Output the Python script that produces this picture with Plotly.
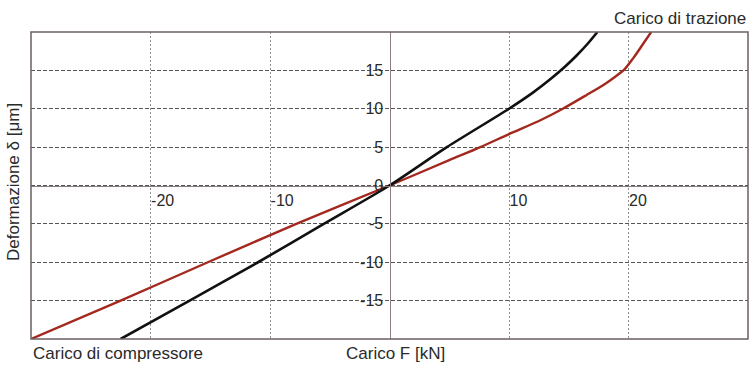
import plotly.graph_objects as go

# Data
black_x = [-22.5, -16.5, -11.0, -5.5, 0.0, 4.8, 10.0, 12.0, 13.5, 14.7, 15.7, 16.6, 17.4]
black_y = [-20.0, -14.8, -10.0, -5.0, 0.0, 5.0, 10.0, 12.1, 13.9, 15.5, 17.0, 18.5, 20.0]

red_x = [-30.0, -22.5, -15.2, -7.8, 0.0, 5.0, 7.6, 10.0, 12.5, 14.5, 16.5, 18.0, 19.0, 19.7, 20.4, 21.2, 21.9]
red_y = [-20.0, -15.0, -10.0, -5.0, 0.0, 3.3, 5.0, 6.7, 8.4, 10.0, 11.8, 13.2, 14.3, 15.2, 16.6, 18.4, 20.0]

x_ticks = [-20, -10, 10, 20]
x_ticklabels = ["-20", "-10", "10", "20"]
y_ticks = [-15, -10, -5, 0, 5, 10, 15]
y_ticklabels = ["-15", "-10", "-5", "0", "5", "10", "15"]

FONT = "Liberation Sans, Arial, sans-serif"
TXT = "#2a2a2a"
FS_TICK = 16
FS = 17

fig = go.Figure()
fig.add_trace(go.Scatter(x=red_x, y=red_y, mode="lines",
                         line=dict(color="#a3291f", width=2.4, shape="spline", smoothing=0.8)))
fig.add_trace(go.Scatter(x=black_x, y=black_y, mode="lines",
                         line=dict(color="#111111", width=2.6, shape="spline", smoothing=0.8)))

fig.update_layout(
    width=749, height=367,
    margin=dict(l=31, r=1, t=32, b=28, autoexpand=False),
    paper_bgcolor="white", plot_bgcolor="white",
    showlegend=False,
    font=dict(family=FONT, size=FS, color=TXT),
    xaxis=dict(range=[-30, 30], tickvals=x_ticks, ticktext=x_ticklabels,
               anchor="free", position=0.5, automargin=False,
               showline=True, linecolor="#8a8080", linewidth=1.2,
               zeroline=False, showgrid=True, gridcolor="#8f8f8f", griddash="2px,2px", gridwidth=1,
               ticks="", ticklabelposition="outside right",
               tickfont=dict(family=FONT, size=FS_TICK, color=TXT)),
    yaxis=dict(range=[-20, 20], tickvals=y_ticks, ticktext=y_ticklabels,
               anchor="free", position=0.5, automargin=False,
               showline=True, linecolor="#8a8080", linewidth=1.2,
               zeroline=False, showgrid=True, gridcolor="#555555", griddash="4px,2px", gridwidth=1,
               ticks="", ticklabelstandoff=3,
               tickfont=dict(family=FONT, size=FS_TICK, color=TXT)),
    shapes=[dict(type="rect", xref="paper", yref="paper", x0=0, x1=1, y0=0, y1=1,
                 line=dict(color="#6b6060", width=1.5))],
    annotations=[
        dict(text="Carico di trazione", xref="paper", yref="paper", x=1, y=1,
             xanchor="right", yanchor="bottom", yshift=2, showarrow=False,
             font=dict(family=FONT, size=FS, color=TXT)),
        dict(text="Carico di compressore", xref="paper", yref="paper", x=0, y=0,
             xanchor="left", yanchor="top", yshift=-3, showarrow=False,
             font=dict(family=FONT, size=FS, color=TXT)),
        dict(text="Carico F [kN]", xref="paper", yref="paper", x=0.5, y=0,
             xanchor="center", yanchor="top", yshift=-3, xshift=6, showarrow=False,
             font=dict(family=FONT, size=FS, color=TXT)),
        dict(text="Deformazione δ [μm]", xref="paper", yref="paper", x=0, y=0.5,
             xanchor="right", yanchor="middle", xshift=-6, yshift=3, showarrow=False, textangle=-90,
             font=dict(family=FONT, size=FS, color=TXT)),
    ],
)

fig.write_html("out.html", config={"displayModeBar": False},
               post_script="document.body.style.margin='0';document.body.style.padding='0';")
